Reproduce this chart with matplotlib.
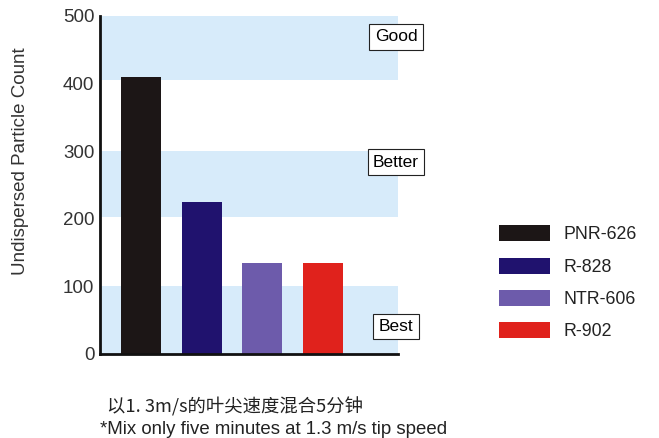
import matplotlib.pyplot as plt
from matplotlib.patches import Patch

plt.rcParams['font.family'] = ['Liberation Sans', 'Noto Sans CJK SC', 'DejaVu Sans']

# data
products = ["PNR-626", "R-828", "NTR-606", "R-902"]
counts = [410, 225, 135, 135]
colors = ["#1c1616", "#20126e", "#6d5bab", "#e0221c"]

# shaded rating bands (lower, upper) and their labels
bands = [(0, 100), (202, 300), (405, 500)]
band_labels = ["Best", "Better", "Good"]
band_label_y = [41, 284, 469]

yticks = [0, 100, 200, 300, 400, 500]

fig = plt.figure(figsize=(6.59, 4.38), dpi=100)
ax = fig.add_axes([0.1517, 0.1918, 0.452, 0.7717])

for lo, hi in bands:
    ax.axhspan(lo, hi, color="#d7ebfa", lw=0, zorder=0)

x = list(range(len(products)))
ax.bar(x, counts, width=0.66, color=colors, zorder=2)

ax.set_xlim(-0.675, 4.23)
ax.set_ylim(0, 500)
ax.set_yticks(yticks)
ax.set_xticks([])
ax.tick_params(axis="y", length=0, labelsize=13.5, labelcolor="#333333", pad=4)
for s in ["top", "right"]:
    ax.spines[s].set_visible(False)
for s in ["left", "bottom"]:
    ax.spines[s].set_linewidth(2)
    ax.spines[s].set_color("#111111")
ax.set_ylabel("Undispersed Particle Count", fontsize=13.5, color="#333333")
ax.yaxis.set_label_coords(-0.268, 0.571)
ax.yaxis.label.set_va("center")

for lab, yv in zip(band_labels, band_label_y):
    ax.text(4.2, yv, lab, ha="center", va="center", fontsize=12.5, zorder=3,
            clip_on=False,
            bbox=dict(boxstyle="square,pad=0.3", fc="white", ec="#222222", lw=0.8))

handles = [Patch(facecolor=c, edgecolor="none") for c in colors]
fig.legend(handles, products, loc="upper left", bbox_to_anchor=(0.733, 0.522),
           frameon=False, fontsize=12.8, handlelength=2.85, handleheight=1.0,
           labelspacing=0.8, handletextpad=0.8, labelcolor="#222222")

fig.text(0.163, 0.058, "以1. 3m/s的叶尖速度混合5分钟", fontsize=13.2, color="#222222",
         family=['Noto Sans CJK SC', 'DejaVu Sans'])
fig.text(0.152, 0.01, "*Mix only five minutes at 1.3 m/s tip speed", fontsize=13.4,
         color="#222222")

fig.savefig("out.png", dpi=100)
